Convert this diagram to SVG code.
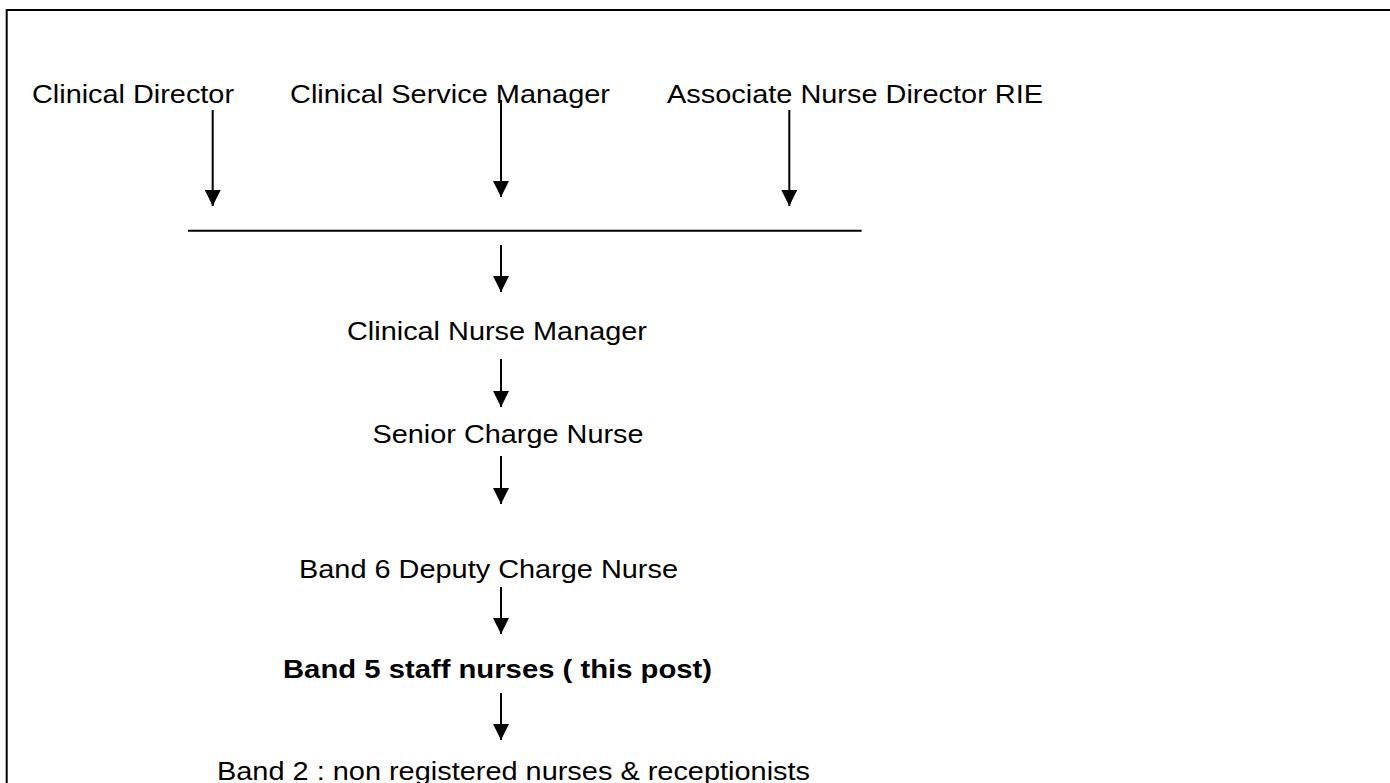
<svg xmlns="http://www.w3.org/2000/svg" width="1390" height="783" viewBox="0 0 1390 783">
  <style>
    .t { font-family: "Liberation Sans", Arial, sans-serif; font-size: 26px; fill: #000; }
    .b { font-weight: bold; }
    .c { stroke: #000; stroke-width: 2; fill: none; }
  </style>
  <defs>
    <marker id="ah" viewBox="0 0 16 16" refX="16" refY="8" markerWidth="16" markerHeight="16" markerUnits="userSpaceOnUse" orient="auto">
      <path d="M0,0 L16,8 L0,16 z" fill="#000"/>
    </marker>
  </defs>
  <rect width="1390" height="783" fill="#fff"/>
  <rect x="6.7" y="10" width="1400" height="800" fill="none" stroke="#000" stroke-width="2"/>

  <g id="connectors">
    <line class="c" x1="212.7" y1="110" x2="212.7" y2="206" marker-end="url(#ah)"/>
    <line class="c" x1="501" y1="100" x2="501" y2="197" marker-end="url(#ah)"/>
    <line class="c" x1="789.3" y1="110" x2="789.3" y2="206" marker-end="url(#ah)"/>
    <line class="c" x1="188" y1="230.7" x2="861.7" y2="230.7"/>
    <line class="c" x1="501" y1="245" x2="501" y2="292" marker-end="url(#ah)"/>
    <line class="c" x1="501" y1="359" x2="501" y2="407" marker-end="url(#ah)"/>
    <line class="c" x1="501" y1="456" x2="501" y2="504" marker-end="url(#ah)"/>
    <line class="c" x1="501" y1="587" x2="501" y2="634" marker-end="url(#ah)"/>
    <line class="c" x1="501" y1="693" x2="501" y2="740" marker-end="url(#ah)"/>
  </g>

  <g id="clinical-director"><text class="t" x="32" y="103" textLength="202" lengthAdjust="spacingAndGlyphs">Clinical Director</text></g>
  <g id="clinical-service-manager"><text class="t" x="290" y="103" textLength="320" lengthAdjust="spacingAndGlyphs">Clinical Service Manager</text></g>
  <g id="associate-nurse-director"><text class="t" x="667" y="103" textLength="376" lengthAdjust="spacingAndGlyphs">Associate Nurse Director RIE</text></g>
  <g id="clinical-nurse-manager"><text class="t" x="347" y="340" textLength="300" lengthAdjust="spacingAndGlyphs">Clinical Nurse Manager</text></g>
  <g id="senior-charge-nurse"><text class="t" x="372.5" y="443" textLength="271" lengthAdjust="spacingAndGlyphs">Senior Charge Nurse</text></g>
  <g id="band6"><text class="t" x="299" y="578" textLength="379" lengthAdjust="spacingAndGlyphs">Band 6 Deputy Charge Nurse</text></g>
  <g id="band5"><text class="t b" x="283" y="678" textLength="429" lengthAdjust="spacingAndGlyphs">Band 5 staff nurses ( this post)</text></g>
  <g id="band2"><text class="t" x="217" y="780" textLength="593" lengthAdjust="spacingAndGlyphs">Band 2 : non registered nurses &amp; receptionists</text></g>
</svg>
